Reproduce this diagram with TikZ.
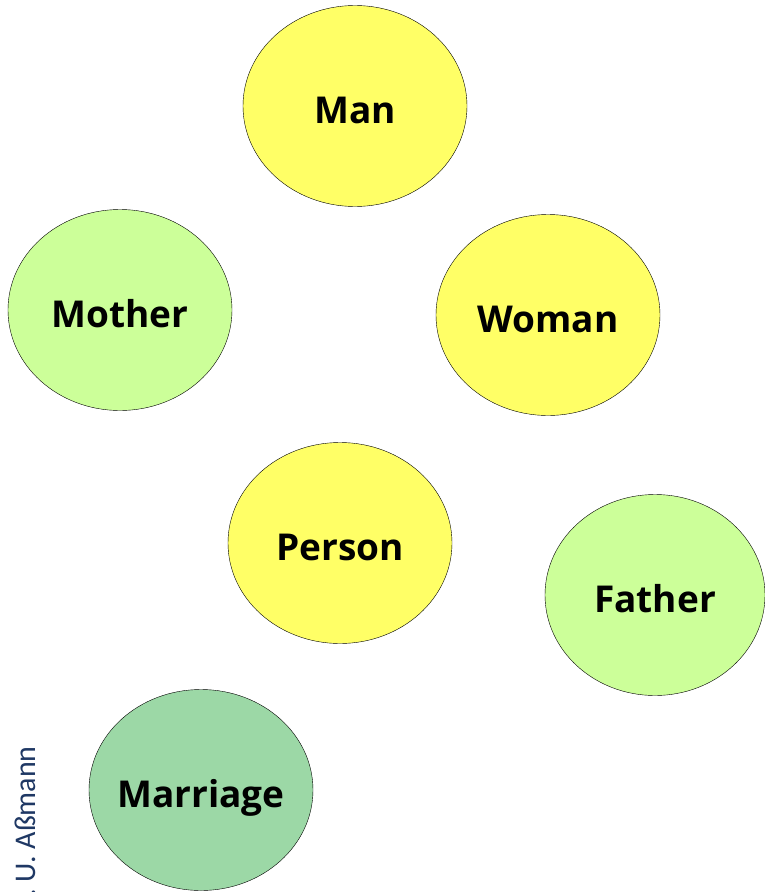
\documentclass[tikz,border=0pt]{standalone}
\usepackage{fontspec}
\setmainfont{Open Sans}
\newfontfamily\authorfont{Carlito}
\usetikzlibrary{shapes.geometric}

\definecolor{roleyellow}{RGB}{255,255,102}
\definecolor{rolelight}{RGB}{204,255,153}
\definecolor{rolegreen}{RGB}{156,216,166}
\definecolor{authorblue}{RGB}{31,56,100}

\begin{document}
\begin{tikzpicture}[x=1bp,y=-1bp,
  role/.style={ellipse,draw=black,thin,minimum width=224bp,minimum height=201bp,
    inner sep=0pt,text height=35bp,text depth=1bp,
    font=\fontsize{37bp}{44bp}\selectfont\bfseries},
  natural/.style={role,fill=roleyellow},
  founded/.style={role,fill=rolelight},
  compartment/.style={role,fill=rolegreen,inner xsep=-6bp}]
  \useasboundingbox (0,0) rectangle (765,892);

  \node[natural]                        (man)      at (355,106) {Man};
  \node[founded]                        (mother)   at (120,310) {Mother};
  \node[natural]                        (woman)    at (548,315) {Woman};
  \node[natural]                        (person)   at (340,543) {Person};
  \node[founded, minimum width=220bp]   (father)   at (655,595) {Father};
  \node[compartment]                    (marriage) at (201,790) {Marriage};

  \node[rotate=90, anchor=base east, inner sep=0pt, text=authorblue,
    font=\authorfont\fontsize{30bp}{36bp}\selectfont] (author) at (35,746) {F. U. Aßmann};

\end{tikzpicture}
\end{document}
